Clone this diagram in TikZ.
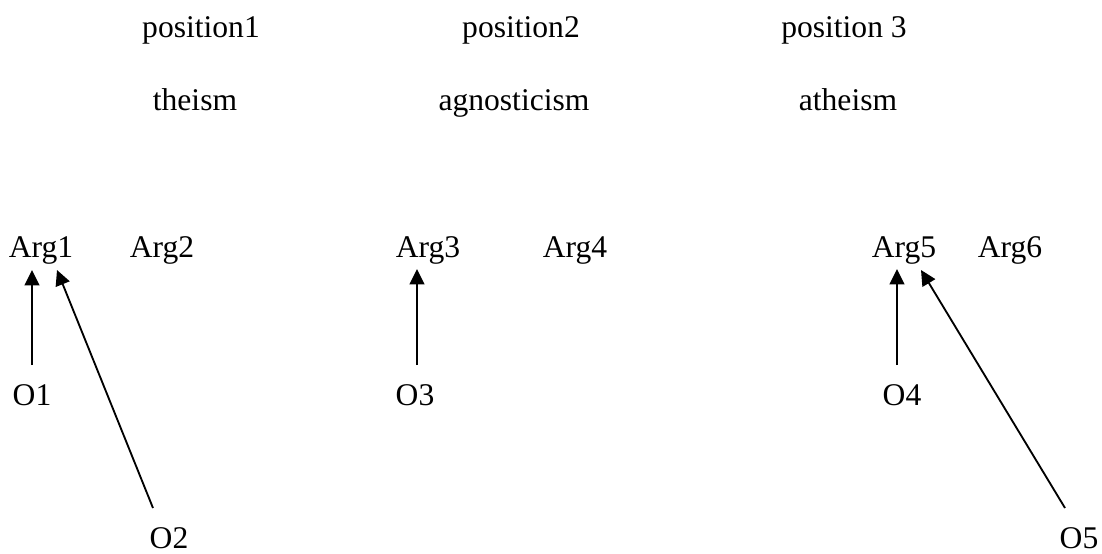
\documentclass[tikz,border=0pt]{standalone}
\usepackage{fontspec}
\setmainfont{Liberation Serif}
\usetikzlibrary{arrows.meta,calc}
\begin{document}
\begin{tikzpicture}[x=0.38pt, y=-0.38pt,
        lbl/.style={anchor=base, inner sep=0pt, font=\fontsize{12}{14}\selectfont},
        arr/.style={-{Triangle[length=5.8pt,width=5.6pt]}, line width=0.7pt}]
        \useasboundingbox (0,0) rectangle (1102,553);

        % Positions
        \node[lbl] (pos1) at (201,37) {position1};
        \node[lbl] (pos2) at (521,37) {position2};
        \node[lbl] (pos3) at (844,37) {position 3};
        \node[lbl] (theism) at (195,110) {theism};
        \node[lbl] (agnost) at (514,110) {agnosticism};
        \node[lbl] (atheism) at (848,110) {atheism};

        % Arguments
        \node[lbl] (arg1) at (41,257) {Arg1};
        \node[lbl] (arg2) at (162,257) {Arg2};
        \node[lbl] (arg3) at (428,257) {Arg3};
        \node[lbl] (arg4) at (575,257) {Arg4};
        \node[lbl] (arg5) at (904,257) {Arg5};
        \node[lbl] (arg6) at (1010,257) {Arg6};

        % Objections
        \node[lbl] (o1) at (32,405) {O1};
        \node[lbl] (o2) at (169,548) {O2};
        \node[lbl] (o3) at (415,405) {O3};
        \node[lbl] (o4) at (902,405) {O4};
        \node[lbl] (o5) at (1079,548) {O5};

        % Objection arrows
        \draw[arr] ($(o1.base)+(0,-40)$) -- ($(arg1.base)+(-9,13)$);
        \draw[arr] ($(o2.base)+(-16,-40)$) -- ($(arg1.base)+(16,13)$);
        \draw[arr] ($(o3.base)+(2,-40)$) -- ($(arg3.base)+(-11,12)$);
        \draw[arr] ($(o4.base)+(-5,-40)$) -- ($(arg5.base)+(-7,12)$);
        \draw[arr] ($(o5.base)+(-14,-40)$) -- ($(arg5.base)+(17,13)$);
\end{tikzpicture}
\end{document}
